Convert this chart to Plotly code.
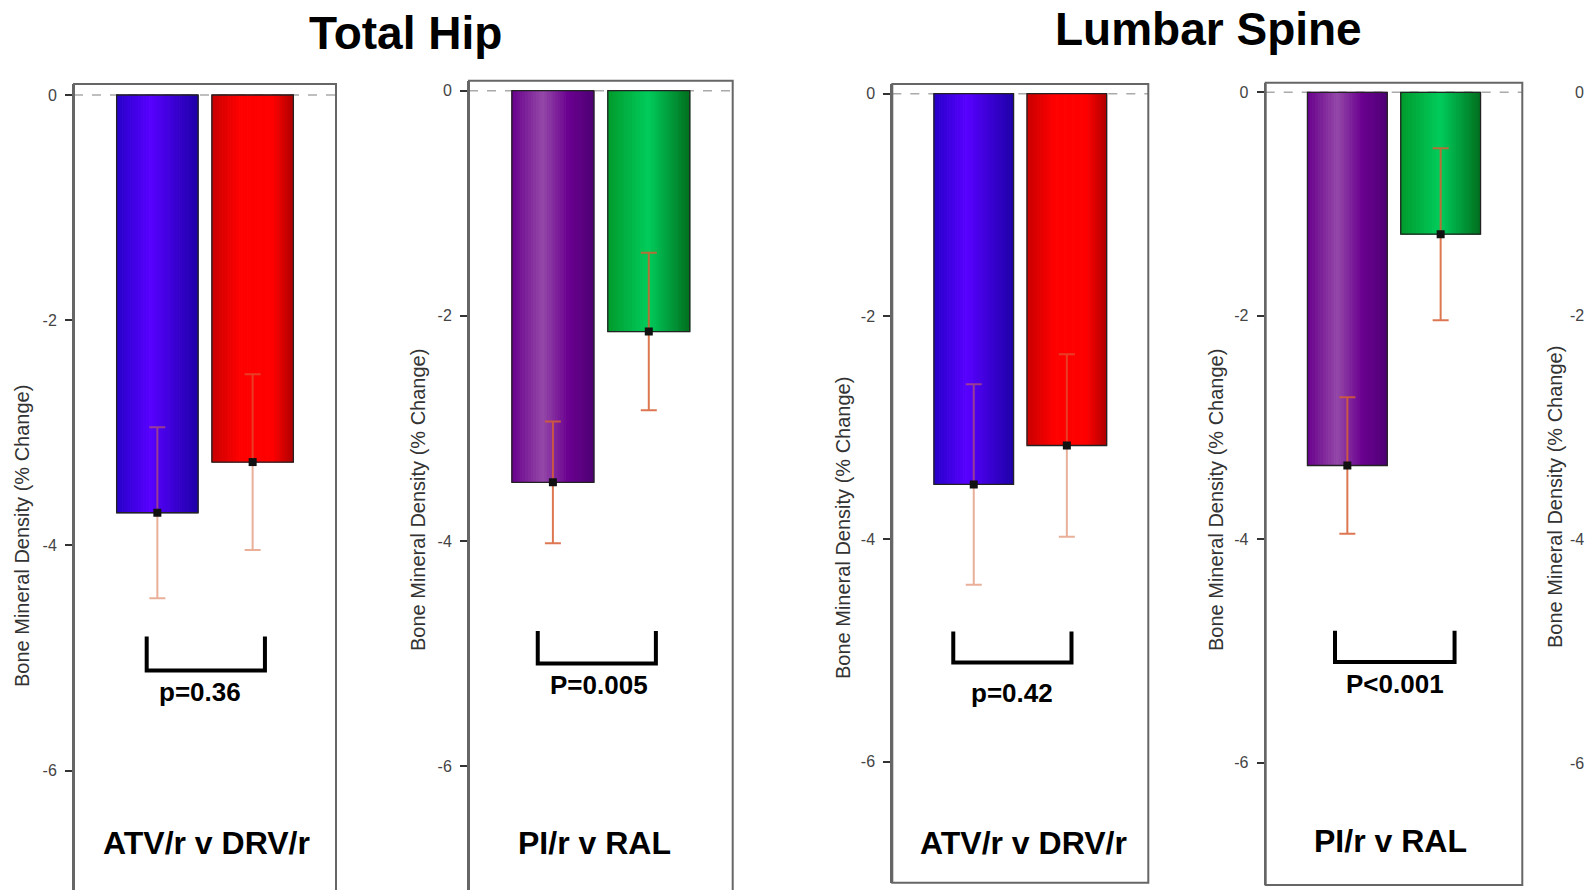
import plotly.graph_objects as go

# ---------------- data ----------------
sites = ["Total Hip", "Lumbar Spine"]
comparisons = ["ATV/r v DRV/r", "PI/r v RAL", "ATV/r v DRV/r", "PI/r v RAL"]
arms = [["ATV/r", "DRV/r"], ["PI/r", "RAL"], ["ATV/r", "DRV/r"], ["PI/r", "RAL"]]
means = [[-3.71, -3.26], [-3.48, -2.14], [-3.51, -3.16], [-3.34, -1.27]]
errors = [[0.76, 0.78], [0.54, 0.70], [0.90, 0.82], [0.61, 0.77]]
pvalues = ["p=0.36", "P=0.005", "p=0.42", "P<0.001"]
ytick_vals = [0, -2, -4, -6]
ytick_text = ["0", "-2", "-4", "-6"]
ytitle = "Bone Mineral Density (% Change)"

# ---------------- styling / geometry ----------------
W, H = 1586, 890
FONT = "Liberation Sans, Arial, sans-serif"
boxes = [
    dict(l=74, r=336, t=84, b=890, zero=95, unit=112.6, open=True),
    dict(l=469, r=732.7, t=80.7, b=890, zero=90.7, unit=112.55, open=True),
    dict(l=892.3, r=1148.3, t=84, b=882.7, zero=93.7, unit=111.33, open=False),
    dict(l=1265.7, r=1522.3, t=82.7, b=885, zero=92.3, unit=111.73, open=False),
]
XR = [0.125, 2.875]
BW = 0.855
NSTRIP = 30
gradients = {
    "ATV/r": [(0, "#2600c8"), (0.42, "#5800ff"), (1, "#1e00a8")],
    "DRV/r": [(0, "#c80000"), (0.35, "#ff0000"), (0.75, "#ff0000"), (1, "#b00000")],
    "PI/r": [(0, "#68008c"), (0.38, "#9448a8"), (0.7, "#6a0090"), (1, "#4e0074")],
    "RAL": [(0, "#009a2c"), (0.5, "#00cc5c"), (1, "#00701e")],
}
err_colors = ["rgba(215,110,70,0.55)", "rgba(215,95,50,0.85)",
              "rgba(215,110,70,0.55)", "rgba(215,95,50,0.85)"]
bracket_x = [(0.888, 2.129), (0.842, 2.074), (0.78, 2.05), (0.868, 2.149)]
bracket_y = [(-4.81, -5.11), (-4.80, -5.09), (-4.83, -5.11), (-4.82, -5.10)]
ptext_pos = [(1.447, -5.30), (1.476, -5.28), (1.407, -5.38), (1.511, -5.30)]
label_pos = [(1.52, -6.64), (1.433, -6.68), (1.537, -6.73), (1.466, -6.70)]
ytitle_px = [(22, 536), (418, 500), (843, 528), (1216, 500), (1555, 497)]
title_px = [(405, 33), (1208, 29)]


def hex2rgb(h):
    h = h.lstrip("#")
    return tuple(int(h[i:i + 2], 16) for i in (0, 2, 4))


def grad(stops, t):
    for (t0, c0), (t1, c1) in zip(stops[:-1], stops[1:]):
        if t0 <= t <= t1:
            f = (t - t0) / (t1 - t0) if t1 > t0 else 0
            a, b = hex2rgb(c0), hex2rgb(c1)
            return "rgb(%d,%d,%d)" % tuple(round(a[k] + (b[k] - a[k]) * f) for k in range(3))
    return stops[-1][1]


fig = go.Figure()
layout = dict(width=W, height=H, margin=dict(l=0, r=0, t=0, b=0),
              paper_bgcolor="white", plot_bgcolor="white", barmode="overlay",
              showlegend=False, font=dict(family=FONT))
shapes, annotations = [], []

for i, bx in enumerate(boxes):
    k = "" if i == 0 else str(i + 1)
    xa, ya = "x" + k, "y" + k
    ytop = (bx["zero"] - bx["t"]) / bx["unit"]
    ybot = -(bx["b"] - bx["zero"]) / bx["unit"]
    layout["xaxis" + k] = dict(domain=[bx["l"] / W, bx["r"] / W], range=XR, anchor=ya,
                               showticklabels=False, showgrid=False, zeroline=False,
                               showline=False, fixedrange=True)
    layout["yaxis" + k] = dict(domain=[1 - bx["b"] / H, 1 - bx["t"] / H], range=[ybot, ytop],
                               anchor=xa, tickvals=ytick_vals, ticktext=ytick_text,
                               ticks="outside", ticklen=7, tickwidth=1.5, tickcolor="#333",
                               ticklabelstandoff=5,
                               tickfont=dict(size=16, color="#444", family=FONT),
                               showline=True, linecolor="#666", linewidth=2,
                               showgrid=False, zeroline=False, fixedrange=True)
    # frame
    shapes.append(dict(type="rect", xref=xa + " domain", yref=ya + " domain",
                       x0=0, x1=1, y0=-0.05 if bx["open"] else 0, y1=1,
                       line=dict(color="#666", width=2), fillcolor="rgba(0,0,0,0)", layer="above"))
    # dashed zero line
    shapes.append(dict(type="line", xref=xa + " domain", yref=ya, x0=0, x1=1, y0=0, y1=0,
                       line=dict(color="#aaa", width=1.5, dash="dash"), layer="below"))

    for j in range(2):
        pos = j + 1
        v = means[i][j]
        stops = gradients[arms[i][j]]
        xs = [pos - BW / 2 + (s + 0.5) * BW / NSTRIP for s in range(NSTRIP)]
        cols = [grad(stops, (s + 0.5) / NSTRIP) for s in range(NSTRIP)]
        fig.add_trace(go.Bar(x=xs, y=[v] * NSTRIP, width=BW / NSTRIP,
                             marker=dict(color=cols, line=dict(width=1, color=cols)),
                             xaxis=xa, yaxis=ya, hoverinfo="skip", name=arms[i][j]))
        fig.add_trace(go.Bar(x=[pos], y=[v], width=BW,
                             marker=dict(color="rgba(0,0,0,0)", line=dict(color="#222", width=1.3)),
                             xaxis=xa, yaxis=ya, name=arms[i][j]))
    fig.add_trace(go.Scatter(x=[1, 2], y=means[i], mode="markers",
                             marker=dict(symbol="square", size=8, color="#111"),
                             error_y=dict(type="data", array=errors[i], color=err_colors[i],
                                          thickness=2, width=8),
                             xaxis=xa, yaxis=ya))
    # significance bracket
    x0, x1 = bracket_x[i]
    y0, y1 = bracket_y[i]
    fig.add_trace(go.Scatter(x=[x0, x0, x1, x1], y=[y0, y1, y1, y0], mode="lines",
                             line=dict(color="black", width=4), xaxis=xa, yaxis=ya,
                             hoverinfo="skip"))
    annotations.append(dict(xref=xa, yref=ya, x=ptext_pos[i][0], y=ptext_pos[i][1],
                            xanchor="center", yanchor="middle",
                            text="<b>%s</b>" % pvalues[i], showarrow=False,
                            font=dict(size=26, color="black", family=FONT)))
    annotations.append(dict(xref=xa, yref=ya, x=label_pos[i][0], y=label_pos[i][1],
                            xanchor="center", yanchor="middle",
                            text="<b>%s</b>" % comparisons[i], showarrow=False,
                            font=dict(size=32, color="black", family=FONT)))

# y-axis titles
for (px, py) in ytitle_px:
    annotations.append(dict(xref="paper", yref="paper", x=px / W, y=1 - py / H,
                            xanchor="center", yanchor="middle",
                            text=ytitle, textangle=-90, showarrow=False,
                            font=dict(size=20, color="#333", family=FONT)))

# partial fifth panel tick labels on the right edge
for v, t in zip(ytick_vals, ytick_text):
    py = 92 + (-v) * 111.95
    annotations.append(dict(xref="paper", yref="paper", x=1586 / W, y=1 - py / H,
                            xanchor="right", yanchor="middle", text=t, showarrow=False,
                            font=dict(size=16, color="#444", family=FONT)))

# site titles
for s, (px, py) in zip(sites, title_px):
    annotations.append(dict(xref="paper", yref="paper", x=px / W, y=1 - py / H,
                            xanchor="center", yanchor="middle",
                            text="<b>%s</b>" % s, showarrow=False,
                            font=dict(size=46, color="black", family=FONT)))

layout["shapes"] = shapes
layout["annotations"] = annotations
fig.update_layout(**layout)
fig.write_html("out.html")
